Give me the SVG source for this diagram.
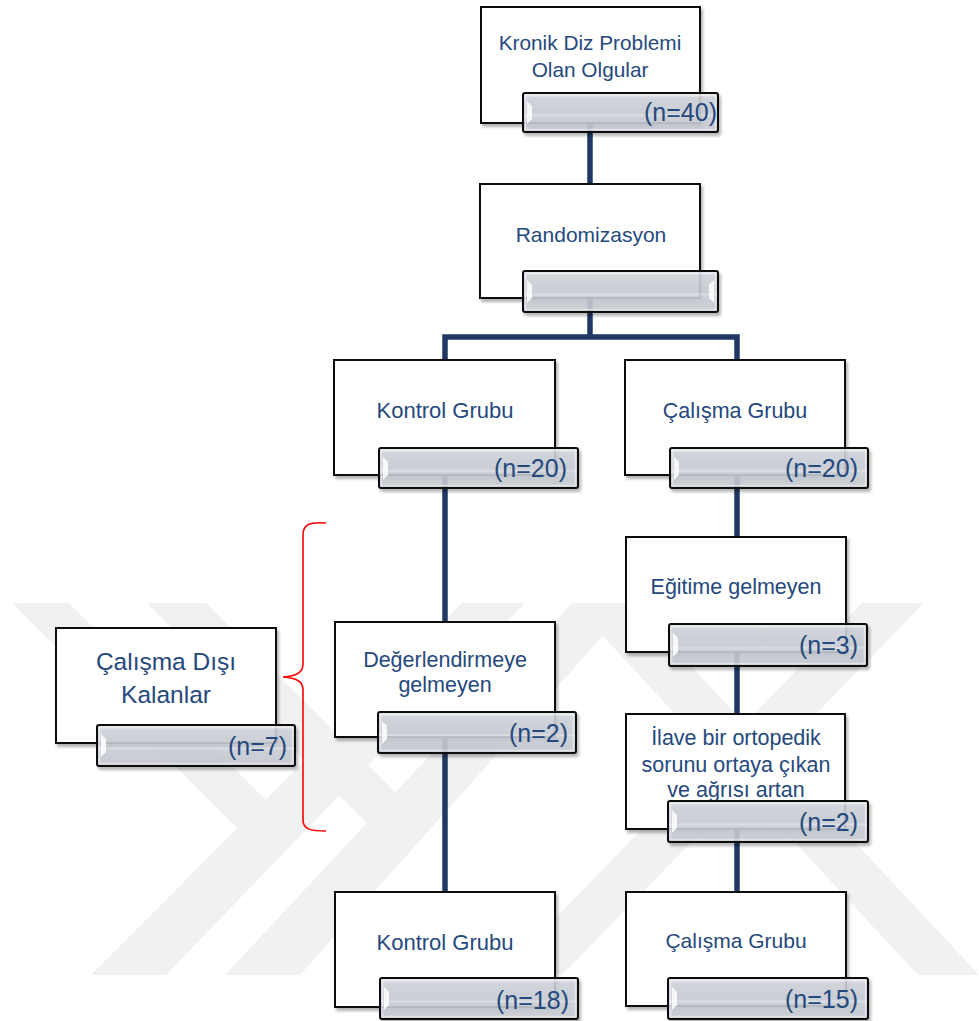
<svg xmlns="http://www.w3.org/2000/svg" width="979" height="1021" viewBox="0 0 979 1021">
<defs>
<linearGradient id="barg" x1="0" y1="0" x2="0" y2="1">
<stop offset="0" stop-color="#e4e7ec"/>
<stop offset="0.14" stop-color="#cfd3da"/>
<stop offset="0.52" stop-color="#c8ccd4"/>
<stop offset="0.57" stop-color="#dcdfe4"/>
<stop offset="0.62" stop-color="#c9cdd5"/>
<stop offset="1" stop-color="#c6cad2"/>
</linearGradient>
<filter id="sh" x="-10%" y="-10%" width="125%" height="130%">
<feDropShadow dx="2" dy="3" stdDeviation="1.6" flood-color="#000" flood-opacity="0.3"/>
</filter>
<style>
.box{fill:#fff;stroke:#111;stroke-width:2;filter:url(#sh)}
.bar{fill:url(#barg);fill-opacity:0.88;stroke:#111;stroke-width:2;filter:url(#sh)}
.inner{fill:none;stroke:#fff;stroke-opacity:0.45;stroke-width:1.5}
.notch{fill:#fff;opacity:0.85}
.t{font-family:'Liberation Sans',Arial,sans-serif;fill:#25497d;text-anchor:middle}
.n{font-family:'Liberation Sans',Arial,sans-serif;fill:#25497d;text-anchor:end;font-size:25px}
.con{stroke:#1f3864;stroke-width:5.5;fill:none}
.wm{fill:#f1f1f1}
</style>
</defs>
<rect width="979" height="1021" fill="#fff"/>
<g id="watermark">
<polygon class="wm" points="462,603 525,603 166,975 91,975"/>
<polygon class="wm" points="12,603 69,603 301,835 237,828"/>
<polygon class="wm" points="572,603 632,603 300,975 225,975"/>
<polygon class="wm" points="147,603 206,603 431,828 367,823"/>
<polygon class="wm" points="572,603 632,603 979,975 918,975"/>
<polygon class="wm" points="862,603 924,603 562,975 500,975"/>
</g>
<g id="connectors">
<path class="con" d="M590,123 V184"/>
<path class="con" d="M590,298 V337"/>
<path class="con" d="M445,362 V337 H737 V362"/>
<path class="con" d="M445,475 V622"/>
<path class="con" d="M445,737 V892"/>
<path class="con" d="M737,475 V537"/>
<path class="con" d="M737,652 V714"/>
<path class="con" d="M737,829 V892"/>
</g>
<g id="n1">
<rect class="box" x="481" y="7" width="219" height="116"/>
<text class="t" x="590" y="50" font-size="20.8">Kronik Diz Problemi</text>
<text class="t" x="590" y="77" font-size="20.8">Olan Olgular</text>
<rect class="bar" x="523" y="93" width="195" height="39" rx="2"/>
<rect class="inner" x="525.5" y="95.5" width="190" height="34"/>
<polygon class="notch" points="527,101 532,106 532,119 527,124"/>
<text class="n" x="717" y="121" font-size="24">(n=40)</text>
</g>
<g id="n2">
<rect class="box" x="480" y="184" width="220" height="114"/>
<text class="t" x="591" y="242" font-size="21">Randomizasyon</text>
<rect class="bar" x="523" y="271" width="195" height="41" rx="2"/>
<rect class="inner" x="525.5" y="273.5" width="190" height="36"/>
<polygon class="notch" points="527,280 532,285 532,298 527,303"/>
<polygon class="notch" points="714,280 709,285 709,298 714,303"/>
</g>
<g id="n3">
<rect class="box" x="334" y="360" width="221" height="115"/>
<text class="t" x="445" y="418" font-size="22">Kontrol Grubu</text>
<rect class="bar" x="379" y="448" width="199" height="40" rx="2"/>
<rect class="inner" x="381.5" y="450.5" width="194" height="35"/>
<polygon class="notch" points="383,457 388,462 388,475 383,480"/>
<text class="n" x="567" y="477">(n=20)</text>
</g>
<g id="n4">
<rect class="box" x="625" y="360" width="220" height="115"/>
<text class="t" x="735" y="418" font-size="21.5">Çalışma Grubu</text>
<rect class="bar" x="670" y="448" width="198" height="40" rx="2"/>
<rect class="inner" x="672.5" y="450.5" width="193" height="35"/>
<polygon class="notch" points="674,457 679,462 679,475 674,480"/>
<text class="n" x="858" y="477">(n=20)</text>
</g>
<g id="n5">
<rect class="box" x="626" y="537" width="220" height="115"/>
<text class="t" x="736" y="594" font-size="21.5">Eğitime gelmeyen</text>
<rect class="bar" x="669" y="624" width="198" height="42" rx="2"/>
<rect class="inner" x="671.5" y="626.5" width="193" height="37"/>
<polygon class="notch" points="673,633 678,638 678,652 673,657"/>
<text class="n" x="858" y="654">(n=3)</text>
</g>
<g id="n6">
<rect class="box" x="626" y="714" width="219" height="115"/>
<text class="t" x="736" y="745" font-size="21.5">İlave bir ortopedik</text>
<text class="t" x="736" y="772" font-size="21.5">sorunu ortaya çıkan</text>
<text class="t" x="736" y="797" font-size="21.5">ve ağrısı artan</text>
<rect class="bar" x="668" y="801" width="200" height="41" rx="2"/>
<rect class="inner" x="670.5" y="803.5" width="195" height="36"/>
<polygon class="notch" points="672,810 677,815 677,828 672,833"/>
<text class="n" x="858" y="831">(n=2)</text>
</g>
<g id="n7">
<rect class="box" x="626" y="892" width="220" height="114"/>
<text class="t" x="736" y="948" font-size="21">Çalışma Grubu</text>
<rect class="bar" x="668" y="978" width="200" height="41" rx="2"/>
<rect class="inner" x="670.5" y="980.5" width="195" height="36"/>
<polygon class="notch" points="672,987 677,992 677,1005 672,1010"/>
<text class="n" x="858" y="1008">(n=15)</text>
</g>
<g id="n8">
<rect class="box" x="335" y="622" width="220" height="115"/>
<text class="t" x="445" y="667" font-size="21.5">Değerlendirmeye</text>
<text class="t" x="445" y="692" font-size="21.5">gelmeyen</text>
<rect class="bar" x="378" y="712" width="198" height="41" rx="2"/>
<rect class="inner" x="380.5" y="714.5" width="193" height="36"/>
<polygon class="notch" points="382,721 387,726 387,739 382,744"/>
<text class="n" x="568" y="742">(n=2)</text>
</g>
<g id="n9">
<rect class="box" x="335" y="892" width="220" height="115"/>
<text class="t" x="445" y="950" font-size="22">Kontrol Grubu</text>
<rect class="bar" x="380" y="978" width="198" height="41" rx="2"/>
<rect class="inner" x="382.5" y="980.5" width="193" height="36"/>
<polygon class="notch" points="384,987 389,992 389,1005 384,1010"/>
<text class="n" x="569" y="1009">(n=18)</text>
</g>
<g id="n10">
<rect class="box" x="56" y="628" width="220" height="115"/>
<text class="t" x="166" y="670" font-size="24.5">Çalışma Dışı</text>
<text class="t" x="166" y="703" font-size="24.5">Kalanlar</text>
<rect class="bar" x="97" y="725" width="198" height="41" rx="2"/>
<rect class="inner" x="99.5" y="727.5" width="193" height="36"/>
<polygon class="notch" points="101,734 106,739 106,752 101,757"/>
<text class="n" x="287" y="755">(n=7)</text>
</g>
<path id="bracket" d="M326,523 C310,522 303,524 303,535 V664 C303,673 296,676 283,677 C296,678 303,681 303,690 V820 C303,829 310,831 326,831" fill="none" stroke="#ff0000" stroke-width="1.6"/>
</svg>
